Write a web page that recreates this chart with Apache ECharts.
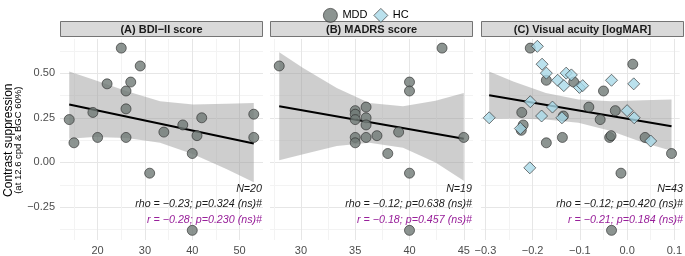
<!DOCTYPE html>
<html>
<head>
<meta charset="utf-8">
<script src="https://cdn.jsdelivr.net/npm/echarts@6/dist/echarts.min.js"></script>
<style>
  html, body { margin: 0; padding: 0; background: #fff; }
  #main { width: 685px; height: 256px; }
</style>
</head>
<body>
<div id="main"></div>
<script>
// values
const yTicks = [-0.25, 0, 0.25, 0.5];
const yGrid = [-0.375, -0.25, -0.125, 0, 0.125, 0.25, 0.375, 0.5, 0.625];

const bdiTicks = [20, 30, 40, 50];
const bdiGrid = [15, 20, 25, 30, 35, 40, 45, 50];
const madrsTicks = [30, 35, 40, 45];
const madrsGrid = [27.5, 30, 32.5, 35, 37.5, 40, 42.5, 45];
const logmarTicks = [-0.3, -0.2, -0.1, 0, 0.1];
const logmarGrid = [-0.3, -0.25, -0.2, -0.15, -0.1, -0.05, 0, 0.05, 0.1];

// (A) BDI-II
const bdiX = [14, 15, 19, 20, 22, 25, 26, 26, 26, 27, 29, 31, 34, 38, 40, 40, 41, 42, 53, 53];
const bdiY = [0.24, 0.11, 0.28, 0.14, 0.44, 0.64, 0.40, 0.30, 0.14, 0.45, 0.54, -0.06, 0.17, 0.21, 0.05, -0.38, 0.15, 0.25, 0.27, 0.14];
const bdiFit = [[14, 0.324], [53, 0.106]];
const bdiBandX = [14, 19.2, 26.2, 33.2, 40.2, 47.2, 53];
const bdiBandUp = [0.509, 0.463, 0.398, 0.342, 0.324, 0.328, 0.333];
const bdiBandLo = [0.133, 0.142, 0.137, 0.111, 0.046, -0.037, -0.111];

// (B) MADRS
const madrsX = [28, 43, 40, 40, 35, 35, 35, 35, 35, 36, 36, 36, 36, 37, 38, 39, 40, 40, 45];
const madrsY = [0.54, 0.64, 0.45, 0.40, 0.29, 0.27, 0.24, 0.14, 0.11, 0.31, 0.25, 0.21, 0.14, 0.15, 0.05, 0.17, -0.06, -0.38, 0.14];
const madrsFit = [[28, 0.315], [45, 0.133]];
const madrsBandX = [28, 30.2, 33.3, 36.3, 39.4, 42.4, 45];
const madrsBandUp = [0.617, 0.528, 0.417, 0.333, 0.315, 0.346, 0.389];
const madrsBandLo = [0.013, 0.046, 0.092, 0.111, 0.083, 0.0, -0.102];

// (C) visual acuity
const vaMddX = [-0.205, -0.171, -0.113, 0.012, -0.050, -0.223, -0.220, -0.224, -0.135, -0.137, -0.171, -0.081, -0.057, -0.025, -0.037, -0.034, 0.038, 0.094, -0.013, -0.033];
const vaMddY = [0.64, 0.46, 0.45, 0.55, 0.40, 0.28, 0.21, 0.18, 0.26, 0.14, 0.11, 0.31, 0.24, 0.29, 0.14, 0.15, 0.14, 0.05, -0.06, -0.38];
const vaHcX = [-0.292, -0.190, -0.180, -0.171, -0.147, -0.134, -0.129, -0.118, -0.101, -0.094, -0.033, 0.014, -0.205, -0.181, -0.158, -0.138, 0.000, 0.015, 0.050, -0.206, -0.226];
const vaHcY = [0.25, 0.65, 0.55, 0.50, 0.46, 0.43, 0.50, 0.49, 0.42, 0.43, 0.46, 0.44, 0.34, 0.26, 0.31, 0.25, 0.29, 0.25, 0.12, -0.03, 0.19];
const vaFit = [[-0.292, 0.376], [0.094, 0.203]];
const vaBandX = [-0.292, -0.241, -0.172, -0.103, -0.034, 0.035, 0.094];
const vaBandUp = [0.509, 0.453, 0.389, 0.352, 0.342, 0.348, 0.352];
const vaBandLo = [0.244, 0.246, 0.241, 0.222, 0.176, 0.111, 0.065];

const panelTitles = ['(A) BDI\u2212II score', '(B) MADRS score', '(C) Visual acuity [logMAR]'];
const statN = ['N=20', 'N=19', 'N=43'];
const statRho = ['rho = \u22120.23; p=0.324 (ns)#', 'rho = \u22120.12; p=0.638 (ns)#', 'rho = \u22120.12; p=0.420 (ns)#'];
const statR = ['r = \u22120.28; p=0.230 (ns)#', 'r = \u22120.18; p=0.457 (ns)#', 'r = \u22120.21; p=0.184 (ns)#'];

const FONT = '"Liberation Sans", Arial, sans-serif';
const panelLeft = [60, 270, 481];
const panelW = 203;
const plotTop = 39;
const plotH = 202.4;
const xRanges = [[12.05, 54.95], [27.15, 45.85], [-0.3093, 0.1113]];
const yRange = [-0.434, 0.691];

function minus(v, d) {
  const s = Math.abs(v).toFixed(d);
  return v < -1e-9 ? '\u2212' + s : s;
}

function pairs(xs, ys) {
  return xs.map((x, i) => [x, ys[i]]);
}

function xAxis(i, ticks, grid, dec, firstMinor) {
  return {
    type: 'value', gridIndex: i, min: xRanges[i][0], max: xRanges[i][1],
    axisLine: { show: false },
    axisTick: { show: false, customValues: grid },
    axisLabel: {
      customValues: ticks, margin: 5, fontSize: 11, color: '#4d4d4d', fontFamily: FONT,
      formatter: v => minus(v, dec)
    },
    splitLine: { show: true, lineStyle: { color: firstMinor ? ['#f3f3f3', '#e6e6e6'] : ['#e6e6e6', '#f3f3f3'], width: 1 } }
  };
}

function yAxis(i) {
  return {
    type: 'value', gridIndex: i, min: yRange[0], max: yRange[1],
    axisLine: { show: false },
    axisTick: { show: false, customValues: yGrid },
    axisLabel: {
      show: i === 0, customValues: yTicks, margin: 5, fontSize: 11, color: '#4d4d4d', fontFamily: FONT,
      formatter: v => minus(v, 2)
    },
    splitLine: { show: true, lineStyle: { color: ['#f3f3f3', '#e6e6e6'], width: 1 } }
  };
}

function band(i, xs, up, lo) {
  return {
    type: 'custom', xAxisIndex: i, yAxisIndex: i, silent: true, z: 1,
    data: [[xs[0], up[0]]],
    renderItem: function (params, api) {
      const pts = [];
      for (let k = 0; k < xs.length; k++) pts.push(api.coord([xs[k], up[k]]));
      for (let k = xs.length - 1; k >= 0; k--) pts.push(api.coord([xs[k], lo[k]]));
      return { type: 'polygon', shape: { points: pts }, style: { fill: 'rgba(153,153,153,0.48)' } };
    }
  };
}

function fitLine(i, pts) {
  return {
    type: 'line', xAxisIndex: i, yAxisIndex: i, data: pts, symbol: 'none', silent: true, z: 2,
    lineStyle: { color: '#000', width: 2 }
  };
}

const mddStyle = { color: '#6f7976', borderColor: '#2b2b2b', borderWidth: 0.8 };
const hcStyle = { color: '#a9d9e9', borderColor: '#2b2b2b', borderWidth: 0.8 };

function dots(i, name, pts) {
  const hc = name === 'HC';
  return {
    type: 'scatter', name: name, xAxisIndex: i, yAxisIndex: i, data: pts, z: 3,
    symbol: hc ? 'diamond' : 'circle', symbolSize: hc ? 12 : 10,
    itemStyle: hc ? hcStyle : mddStyle
  };
}

const graphics = [
  {
    type: 'text', x: 8.5, y: plotTop + plotH / 2, rotation: Math.PI / 2,
    style: { text: 'Contrast suppression', fontSize: 12, fontFamily: FONT, fill: '#000', align: 'center', verticalAlign: 'middle' }
  },
  {
    type: 'text', x: 18.5, y: plotTop + plotH / 2, rotation: Math.PI / 2,
    style: { text: '(at 12.6 cpd & BGC 60%)', fontSize: 9.5, fontFamily: FONT, fill: '#000', align: 'center', verticalAlign: 'middle' }
  }
];
panelLeft.forEach((l, i) => {
  graphics.push({
    type: 'rect', shape: { x: l + 0.5, y: 21.5, width: panelW - 1, height: 15 },
    style: { fill: '#d9d9d9', stroke: '#555', lineWidth: 0.8 }
  });
  graphics.push({
    type: 'text', x: l + panelW / 2, y: 29.5,
    style: { text: panelTitles[i], fontSize: 11, fontWeight: 'bold', fontFamily: FONT, fill: '#1a1a1a', align: 'center', verticalAlign: 'middle' }
  });
  const rx = l + panelW - 1;
  const lines = [[statN[i], 189, '#1a1a1a'], [statRho[i], 204.5, '#1a1a1a'], [statR[i], 220, '#98209a']];
  lines.forEach(t => {
    graphics.push({
      type: 'text', x: rx, y: t[1], z: 10,
      style: { text: t[0], fontSize: 10.7, fontStyle: 'italic', fontFamily: FONT, fill: t[2], align: 'right', verticalAlign: 'middle' }
    });
  });
});

const chart = echarts.init(document.getElementById('main'));
chart.setOption({
  animation: false,
  backgroundColor: '#fff',
  legend: {
    left: 318, top: 3, itemWidth: 14, itemHeight: 14, itemGap: 6,
    textStyle: { fontSize: 11, fontFamily: FONT, color: '#000' },
    data: [
      { name: 'MDD', icon: 'circle', itemStyle: mddStyle },
      { name: 'HC', icon: 'diamond', itemStyle: hcStyle }
    ]
  },
  grid: panelLeft.map(l => ({ left: l, top: plotTop, width: panelW, height: plotH, containLabel: false })),
  xAxis: [
    xAxis(0, bdiTicks, bdiGrid, 0, true),
    xAxis(1, madrsTicks, madrsGrid, 0, true),
    xAxis(2, logmarTicks, logmarGrid, 1, false)
  ],
  yAxis: [yAxis(0), yAxis(1), yAxis(2)],
  series: [
    band(0, bdiBandX, bdiBandUp, bdiBandLo),
    fitLine(0, bdiFit),
    dots(0, 'MDD', pairs(bdiX, bdiY)),
    band(1, madrsBandX, madrsBandUp, madrsBandLo),
    fitLine(1, madrsFit),
    dots(1, 'MDD', pairs(madrsX, madrsY)),
    band(2, vaBandX, vaBandUp, vaBandLo),
    fitLine(2, vaFit),
    dots(2, 'MDD', pairs(vaMddX, vaMddY)),
    dots(2, 'HC', pairs(vaHcX, vaHcY))
  ],
  graphic: graphics
});
</script>
</body>
</html>
